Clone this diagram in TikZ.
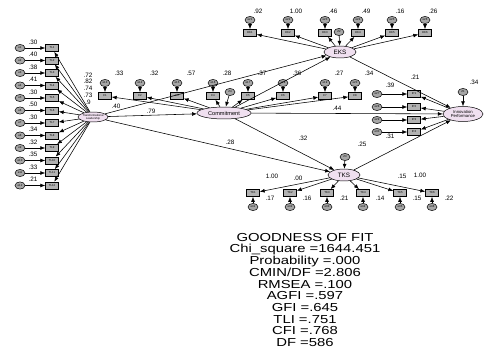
\documentclass[tikz,border=0pt]{standalone}
\usepackage{fontspec}
\setmainfont{Liberation Sans}
\newfontfamily\goffont[FakeStretch=1.28]{Liberation Sans}
\usetikzlibrary{arrows.meta,positioning,shapes}

\tikzset{
  obs/.style={draw,rectangle,fill=gray!60,line width=0.7pt,minimum width=0.65cm,minimum height=0.36cm,inner sep=0pt,font=\fontsize{4}{4}\selectfont},
  err/.style={draw,ellipse,fill=gray!70,line width=0.7pt,minimum width=0.5cm,minimum height=0.36cm,inner sep=0pt,font=\fontsize{4}{4}\selectfont},
  lat/.style={draw,ellipse,fill=violet!12,line width=0.7pt,inner sep=0pt,align=center},
  arr/.style={-{Latex[length=7pt,width=5.5pt]},line width=0.8pt},
  est/.style={font=\fontsize{9}{9}\selectfont,inner sep=0.5pt},
  gof/.style={font=\goffont\fontsize{16.5}{16.5}\selectfont,inner sep=0pt},
}

\begin{document}
\begin{tikzpicture}[x=0.05cm,y=-0.05cm]
\useasboundingbox (0,0) rectangle (493,354);

% latent variables
\node[lat,minimum width=1.5cm,minimum height=0.5cm,font=\fontsize{4}{4}\selectfont] (tl) at (93,117) {Transformational\\Leadership};
\node[lat,minimum width=2.7cm,minimum height=0.6cm,font=\fontsize{8}{8}\selectfont] (com) at (224,113) {Commitment};
\node[lat,minimum width=1.6cm,minimum height=0.6cm,font=\fontsize{9}{9}\selectfont] (eks) at (340,52) {EKS};
\node[lat,minimum width=1.6cm,minimum height=0.6cm,font=\fontsize{9}{9}\selectfont] (tks) at (344,175) {TKS};
\node[lat,minimum width=2cm,minimum height=0.75cm,font=\fontsize{6}{6}\selectfont] (inn) at (463,114) {Innovation\\Performance};

% disturbances
\node[err] (z1) at (463,92) {Z1};
\node[err] (z2) at (339,32) {Z2};
\node[err] (z3) at (345,157) {Z3};
\node[err] (z4) at (230,92) {Z4};
\draw[arr] (z1) -- (inn);
\draw[arr] (z2) -- (eks);
\draw[arr] (z3) -- (tks);
\draw[arr] (z4) -- (com);

% transformational leadership indicators
\foreach \v [count=\i] in {.30,.40,.38,.41,.30,.50,.30,.34,.32,.35,.33,.21}{
  \node[obs] (tlb\i) at (52,{48+(\i-1)*12.5}) {TL\i};
  \node[err] (tle\i) at (20,{48+(\i-1)*12.5}) {e\i};
  \draw[arr] (tle\i) -- (tlb\i);
  \draw[arr] (tl) -- (tlb\i);
  \node[est] at (33,{42+(\i-1)*12.5}) {\v};
}
\foreach \v [count=\i] in {.72,.82,.74,.73,.9}
  \node[est] at (88,{75+(\i-1)*6.8}) {\v};

% commitment indicators
\foreach \x/\v [count=\i] in {105/.33,140/.32,177/.57,213/.28,248/.37,283/.36,325/.27,355/.34}{
  \pgfmathtruncatemacro{\n}{\i+12}
  \node[obs] (cb\i) at (\x,96) {C\i};
  \node[err] (ce\i) at (\x,83) {e\n};
  \draw[arr] (ce\i) -- (cb\i);
  \draw[arr] (com) -- (cb\i);
  \node[est] at (\x+14,73) {\v};
}

% EKS indicators
\foreach \x/\v [count=\i] in {250/.92,288/1.00,325/.46,358/.49,392/.16,425/.26}{
  \pgfmathtruncatemacro{\n}{\i+20}
  \node[obs] (eb\i) at (\x,33) {EK\i};
  \node[err] (ee\i) at (\x,20) {e\n};
  \draw[arr] (ee\i) -- (eb\i);
  \draw[arr] (eks) -- (eb\i);
  \node[est] at (\x+8,11) {\v};
}

% innovation performance indicators
\foreach \y [count=\i] in {94,107,120,132}{
  \pgfmathtruncatemacro{\n}{\i+26}
  \node[obs] (ib\i) at (414,\y) {IP\i};
  \node[err] (ie\i) at (377,\y) {e\n};
  \draw[arr] (ie\i) -- (ib\i);
  \draw[arr] (inn) -- (ib\i);
}
\node[est] at (390,85) {.39};
\node[est] at (390,136) {.31};

% TKS indicators
\foreach \x/\v [count=\i] in {253/.17,290/.16,327/.21,363/.14,400/.15,432/.22}{
  \pgfmathtruncatemacro{\n}{\i+30}
  \node[obs] (tb\i) at (\x,193) {TK\i};
  \node[err] (te\i) at (\x,207) {e\n};
  \draw[arr] (te\i) -- (tb\i);
  \draw[arr] (tks) -- (tb\i);
  \node[est] at (\x+17,198) {\v};
}
\node[est] at (272,176) {1.00};
\node[est] at (298,178) {.00};
\node[est] at (402,176) {.15};
\node[est] at (420,175) {1.00};

% structural paths
\draw[arr] (tl) -- (eks);
\draw[arr] (tl) -- (com);
\draw[arr] (tl) -- (tks);
\draw[arr] (com) -- (eks);
\draw[arr] (com) -- (tks);
\draw[arr] (com) -- (inn);
\draw[arr] (eks) -- (inn);
\draw[arr] (tks) -- (inn);
\node[est] at (116,106) {.40};
\node[est] at (151,111) {.79};
\node[est] at (230,142) {.28};
\node[est] at (303,138) {.32};
\node[est] at (337,108) {.44};
\node[est] at (415,77) {.21};
\node[est] at (362,144) {.25};
\node[est] at (474,82) {.34};

% goodness of fit
\foreach \t [count=\k] in {GOODNESS OF FIT,Chi\_square =1644.451,Probability =.000,CMIN/DF =2.806,RMSEA =.100,AGFI =.597,GFI =.645,TLI =.751,CFI =.768,DF =586}
  \node[gof] at (305,{238+(\k-1)*11.6}) {\t};
\end{tikzpicture}
\end{document}
